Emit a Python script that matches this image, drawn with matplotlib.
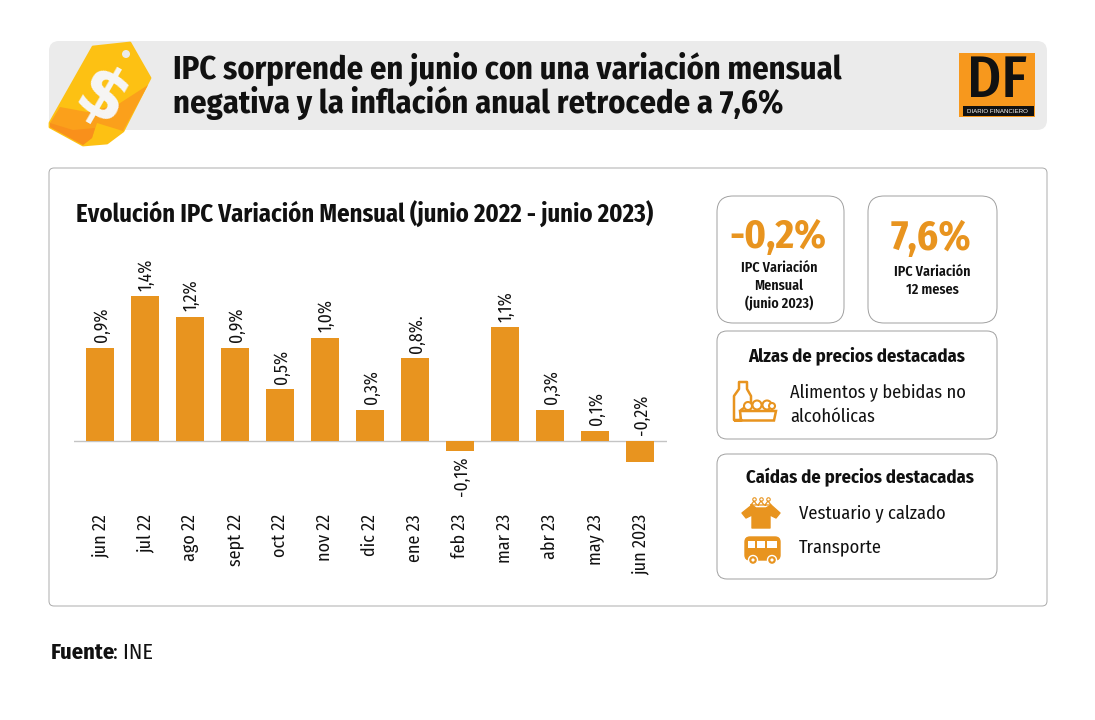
import matplotlib
matplotlib.use("Agg")
import matplotlib.pyplot as plt
from matplotlib.patches import FancyBboxPatch, Polygon, Rectangle, Circle

months = ["jun 22","jul 22","ago 22","sept 22","oct 22","nov 22","dic 22","ene 23","feb 23","mar 23","abr 23","may 23","jun 2023"]
values = [0.9,1.4,1.2,0.9,0.5,1.0,0.3,0.8,-0.1,1.1,0.3,0.1,-0.2]
value_labels = ["0,9%","1,4%","1,2%","0,9%","0,5%","1,0%","0,3%","0,8%.","-0,1%","1,1%","0,3%","0,1%","-0,2%"]

plt.rcParams['font.family'] = ['Fira Sans Condensed', 'DejaVu Sans']
ORANGE = "#E8941F"
W, H = 1095, 720
fig = plt.figure(figsize=(W/100, H/100), dpi=100, facecolor="white")
bg = fig.add_axes([0, 0, 1, 1])
bg.set_xlim(0, W); bg.set_ylim(H, 0); bg.axis("off")

def box(x0, y0, x1, y1, r, fc="white", ec="#a0a0a0", lw=0.7, z=1):
    bg.add_patch(FancyBboxPatch((x0+r, y0+r), x1-x0-2*r, y1-y0-2*r,
                 boxstyle=f"round,pad={r},rounding_size={r}", fc=fc, ec=ec, lw=lw, zorder=z))
def t(x, y, s, px, weight="normal", color="#111111", ha="left", va="center", **kw):
    return bg.text(x, y, s, fontsize=px*0.72, fontweight=weight, color=color, ha=ha, va=va, zorder=6, **kw)

# header band
box(49, 41, 1047, 130, 10, fc="#EBEBEB", ec="none", lw=0)
t(173, 78.5, "IPC sorprende en junio con una variación mensual", 32.4, "bold", va="baseline")
t(173, 113.5, "negativa y la inflación anual retrocede a 7,6%", 32.4, "bold", va="baseline")

# price tag icon
bg.add_patch(Polygon([(93,47),(130,43),(150,78),(123,131),(107,143),(83,145),(50,127),(50,123)],
                     closed=True, fc="#FDC113", ec="#FDC113", lw=2, joinstyle="round", zorder=3))
bg.add_patch(Polygon([(60,107),(87,112),(117,105),(148,85),(123,131),(97,123),(92,138),(83,145),(50,127),(50,123)],
                     closed=True, fc="#FBA01B", ec="none", zorder=3))
bg.add_patch(Polygon([(50,123),(73,130),(95,128),(92,138),(83,145),(50,127)],
                     closed=True, fc="#F9901B", ec="none", zorder=3))
bg.add_patch(Circle((126,54), 4, fc="#EBEBEB", ec="none", zorder=4))
bg.text(101, 100, "$", fontsize=50, fontweight="bold", color="#F6F6F6", ha="center", va="center",
        rotation=-30, family=["DejaVu Sans"], zorder=5)

# DF logo
bg.add_patch(Rectangle((959,53), 76, 64, fc="#F7981D", ec="none", zorder=3))
bg.add_patch(Rectangle((963,106), 71, 10, fc="#111111", ec="none", zorder=4))
bg.text(997, 82, "DF", fontsize=42, color="#111111", ha="center", va="center", fontweight="medium", zorder=5)
bg.text(997, 111.5, "DIARIO FINANCIERO", fontsize=4.4, color="white", ha="center", va="center",
        family=["Liberation Sans","DejaVu Sans"], zorder=5)

# main panel
box(49, 168, 1047, 606, 5, ec="#ababab")
t(76, 214, "Evolución IPC Variación Mensual (junio 2022 - junio 2023)", 24.65, "bold")

# bar chart
AL, AR, AT, AB = 74, 667, 250, 500
ax = fig.add_axes([AL/W, 1-AB/H, (AR-AL)/W, (AB-AT)/H])
ax.patch.set_alpha(0)
ppu_x = 45.0
ppu_y = 103.4
ax.set_xlim((AL-100)/ppu_x, (AR-100)/ppu_x)
ax.set_ylim((441-AB)/ppu_y, (441-AT)/ppu_y)
pos = list(range(len(values)))
ax.bar(pos, values, width=28/45, color=ORANGE, zorder=2)
ax.axhline(0, color="#c4c4c4", lw=1, zorder=1)
for s in ax.spines.values():
    s.set_visible(False)
ax.set_yticks([])
ax.set_xticks(pos)
ax.set_xticklabels(months, rotation=90, fontsize=18*0.72, color="#111111", ha="center", va="top")
ax.tick_params(axis="x", length=0, pad=10)
for p, v, lab in zip(pos, values, value_labels):
    above = v >= 0 or lab == "-0,2%"
    ax.annotate(lab, (p, max(v, 0)),
                xytext=(1, 4 if above else -11), textcoords="offset points",
                rotation=90, ha="center", va="bottom" if above else "top",
                fontsize=17.6*0.72, color="#111111", clip_on=False)

# KPI boxes
box(717, 196, 844, 323, 16)
box(868, 196, 997, 323, 16)
t(778, 237, "-0,2%", 40.5, "bold", color=ORANGE, ha="center")
t(931, 239, "7,6%", 41, "bold", color=ORANGE, ha="center")
for y, s in zip((268, 286, 303), ("IPC Variación", "Mensual", "(junio 2023)")):
    t(779, y, s, 14.1, "semibold", ha="center")
for y, s in zip((272, 290), ("IPC Variación", "12 meses")):
    t(932, y, s, 14.1, "semibold", ha="center")

box(717, 331, 997, 439, 10)
t(857, 356, "Alzas de precios destacadas", 18.6, "bold", ha="center")
t(790, 392, "Alimentos y bebidas no", 18.4)
t(790, 417, "alcohólicas", 18.4)
box(717, 454, 997, 579, 10)
t(860, 477, "Caídas de precios destacadas", 18.6, "bold", ha="center")
t(799, 513, "Vestuario y calzado", 18.5)
t(799, 547, "Transporte", 18.5)

# food icon
bg.add_patch(Polygon([(734,420),(734,396),(739,389),(739,382),(747,382),(747,389),(751,396),(751,403),(741,410),(741,420)],
                     closed=True, fc="none", ec=ORANGE, lw=1.8, joinstyle="round", zorder=4))
for cx, cy, r in ((748,406,4),(757,405,4.5),(767,405,4.5),(772,406,3)):
    bg.add_patch(Circle((cx,cy), r, fc="white", ec=ORANGE, lw=1.5, zorder=4))
bg.add_patch(Polygon([(740,411),(776,411),(774,420.5),(734,420.5),(741,420)], closed=True, fc="white", ec=ORANGE, lw=1.8, zorder=5))

# shirt icon
bg.add_patch(Polygon([(752,505),(756,508),(766,508),(771,505),(780,513),(776,518),(770,515),(770,528),(752,528),(752,515),(746,518),(742,513)],
                     closed=True, fc=ORANGE, ec=ORANGE, lw=1, joinstyle="round", zorder=4))
for hx in (754,761,768):
    bg.plot([hx-3,hx,hx+3,hx-3], [505,501,505,505], color=ORANGE, lw=0.9, zorder=4)
    bg.plot([hx], [499], marker="o", ms=2.5, mfc="none", mec=ORANGE, mew=0.8, zorder=4)

# bus icon
box(745, 537, 780, 560, 5, fc=ORANGE, ec=ORANGE, lw=1, z=4)
for rx, rw in ((748, 7), (757, 8), (767, 10)):
    bg.add_patch(Rectangle((rx,540.5), rw, 7.5, fc="white", ec="none", zorder=5))
for cx in (753,772):
    bg.add_patch(Circle((cx,560), 4.5, fc=ORANGE, ec="white", lw=1, zorder=5))
    bg.add_patch(Circle((cx,560), 1.6, fc="white", ec="none", zorder=6))

# source
t(51, 659, "Fuente", 22.5, "bold", va="baseline")
t(113, 659, ": INE", 22.5, va="baseline")

fig.savefig("out.png", dpi=100)
